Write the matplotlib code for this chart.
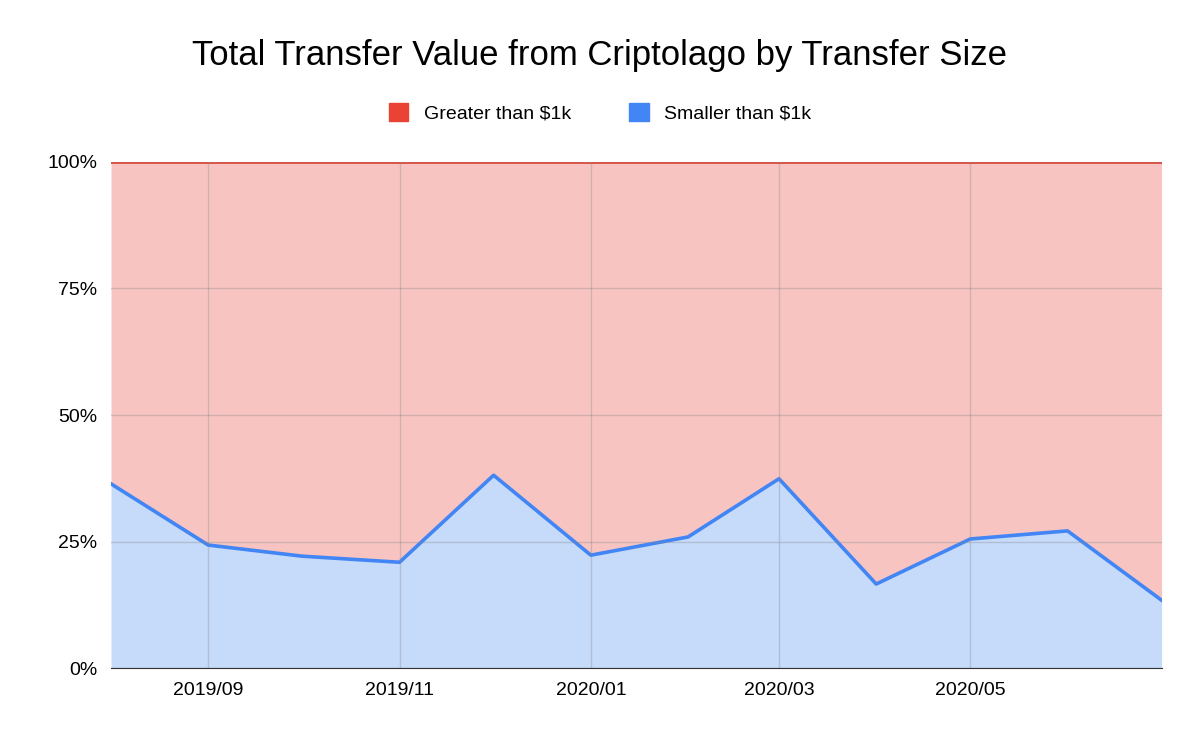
import datetime as dt
import matplotlib.pyplot as plt
import matplotlib.dates as mdates
from matplotlib.patches import Patch

plt.rcParams["font.family"] = "Liberation Sans"

months = [dt.date(2019, m, 1) for m in range(8, 13)] + [dt.date(2020, m, 1) for m in range(1, 8)]
smaller = [36.4, 24.3, 22.1, 20.9, 38.1, 22.3, 25.9, 37.4, 16.6, 25.5, 27.1, 13.4]
greater = [100 - s for s in smaller]
tick_months = [dt.date(2019, 9, 1), dt.date(2019, 11, 1), dt.date(2020, 1, 1),
               dt.date(2020, 3, 1), dt.date(2020, 5, 1)]

red = "#EA4335"
blue = "#4285F4"

fig = plt.figure(figsize=(12, 7.42), dpi=100)
ax = fig.add_axes([0.0925, 0.0997, 0.8755, 0.6820])

top = [s + g for s, g in zip(smaller, greater)]
ax.fill_between(months, smaller, top, color="#F8C4C2", linewidth=0)
ax.fill_between(months, 0, smaller, color="#C6DAFA", linewidth=0)
ax.plot(months, top, color=red, linewidth=2)
ax.plot(months, smaller, color=blue, linewidth=2.6)

ax.set_xlim(months[0], months[-1])
ax.set_ylim(0, 100)
ax.set_yticks([0, 25, 50, 75, 100])
ax.set_yticklabels(["0%", "25%", "50%", "75%", "100%"])
ax.set_xticks(tick_months)
ax.xaxis.set_major_formatter(mdates.DateFormatter("%Y/%m"))
ax.tick_params(length=0, labelsize=14, pad=10)
ax.grid(True, color="#888888", alpha=0.35, linewidth=1)
ax.set_axisbelow(False)
for side in ["top", "right", "left"]:
    ax.spines[side].set_visible(False)
ax.spines["bottom"].set_color("#333333")

fig.text(0.5, 0.925, "Total Transfer Value from Criptolago by Transfer Size",
         ha="center", va="center", fontsize=25)
handles = [Patch(color=red, label="Greater than $1k"),
           Patch(color=blue, label="Smaller than $1k")]
fig.legend(handles=handles, loc="center", bbox_to_anchor=(0.5, 0.848), ncol=2,
           frameon=False, fontsize=14, handlelength=1, handleheight=1,
           columnspacing=3)

fig.savefig("out.png", dpi=100)
